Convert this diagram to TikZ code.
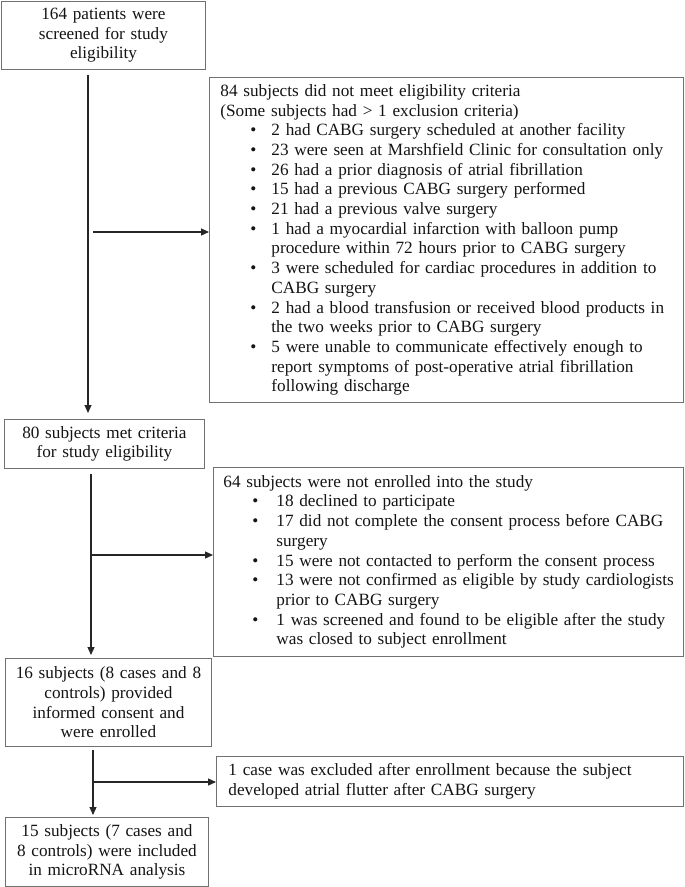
\documentclass[tikz,border=0pt]{standalone}
\usepackage{fontspec}
\setmainfont{Liberation Serif}
\usetikzlibrary{arrows.meta,calc}
\definecolor{boxline}{HTML}{707070}
\definecolor{txt}{HTML}{141414}
\hyphenpenalty=10000
\hbadness=10000
\hfuzz=30pt
\newcommand{\bulA}[1]{\par\hangindent=51pt\hangafter=1\noindent\hspace*{30pt}\makebox[21pt][l]{\textbullet}#1}
\newcommand{\bulB}[1]{\par\hangindent=53pt\hangafter=1\noindent\hspace*{29pt}\makebox[24pt][l]{\textbullet}#1}
\begin{document}
\begin{tikzpicture}[x=1pt,y=-1pt,
  box/.style={draw=boxline,line width=0.9pt,rectangle,anchor=north west,text=txt,
    font=\fontsize{17.2pt}{19.7pt}\selectfont},
  cbox/.style={box,align=center,inner xsep=2pt,inner ysep=0pt},
  lbox/.style={box,align=left,inner xsep=11pt,inner ysep=0pt},
  arr/.style={draw=black!85,line width=1.2pt,-{Triangle[length=8pt,width=7pt]}}]
\useasboundingbox (0,0) rectangle (685,887);
\fill[white] (0,0) rectangle (685,887);

\node[cbox,minimum width=204pt,minimum height=68pt,text width=200pt] (b1) at (1,1)
  {164 patients were\\screened for study\\eligibility};

\node[lbox,minimum width=474pt,minimum height=325pt,text width=452pt] (b84) at (209,77)
  {\noindent 84 subjects did not meet eligibility criteria\par
   \noindent (Some subjects had > 1 exclusion criteria)
   \bulA{2 had CABG surgery scheduled at another facility}
   \bulA{\mbox{23 were seen at Marshfield Clinic for consultation only}}
   \bulA{26 had a prior diagnosis of atrial fibrillation}
   \bulA{15 had a previous CABG surgery performed}
   \bulA{21 had a previous valve surgery}
   \bulA{1 had a myocardial infarction with balloon pump\newline procedure within 72 hours prior to CABG surgery}
   \bulA{3 were scheduled for cardiac procedures in addition to\newline CABG surgery}
   \bulA{\mbox{2 had a blood transfusion or received blood products in}\newline the two weeks prior to CABG surgery}
   \bulA{5 were unable to communicate effectively enough to\newline report symptoms of post-operative atrial fibrillation\newline following discharge}\par};

\node[cbox,minimum width=200pt,minimum height=49pt,text width=196pt] (b80) at (4,419)
  {80 subjects met criteria\\for study eligibility};

\node[lbox,inner xsep=10pt,minimum width=470pt,minimum height=189pt,text width=450pt] (b64) at (213,467)
  {\noindent 64 subjects were not enrolled into the study
   \bulB{18 declined to participate}
   \bulB{\mbox{17 did not complete the consent process before CABG}\newline surgery}
   \bulB{\mbox{15 were not contacted to perform the consent process}}
   \bulB{\mbox{13 were not confirmed as eligible by study cardiologists}\newline prior to CABG surgery}
   \bulB{\mbox{1 was screened and found to be eligible after the study}\newline was closed to subject enrollment}\par};

\node[cbox,minimum width=206pt,minimum height=88pt,text width=202pt] (b16) at (5,658)
  {16 subjects (8 cases and 8\\controls) provided\\informed consent and\\were enrolled};

\node[lbox,inner xsep=12pt,minimum width=467pt,minimum height=50pt,text width=443pt] (b1c) at (216,756)
  {1 case was excluded after enrollment because the subject\\developed atrial flutter after CABG surgery};

\node[cbox,minimum width=203pt,minimum height=69pt,text width=199pt] (b15) at (5,817)
  {15 subjects (7 cases and\\8 controls) were included\\in microRNA analysis};

\coordinate (c1) at (88,75);
\coordinate (h1) at (93,232);
\coordinate (c2) at (91,474);
\coordinate (h2) at (91,555);
\coordinate (c3) at (93,750);
\coordinate (h3) at (93,782);

\draw[arr,shorten >=6pt] (c1) -- (c1 |- b80.north);
\draw[arr] (h1) -- (h1 -| b84.west);
\draw[arr,shorten >=3pt] (c2) -- (c2 |- b16.north);
\draw[arr] (h2) -- (h2 -| b64.west);
\draw[arr,shorten >=2pt] (c3) -- (c3 |- b15.north);
\draw[arr] (h3) -- (h3 -| b1c.west);
\end{tikzpicture}
\end{document}
